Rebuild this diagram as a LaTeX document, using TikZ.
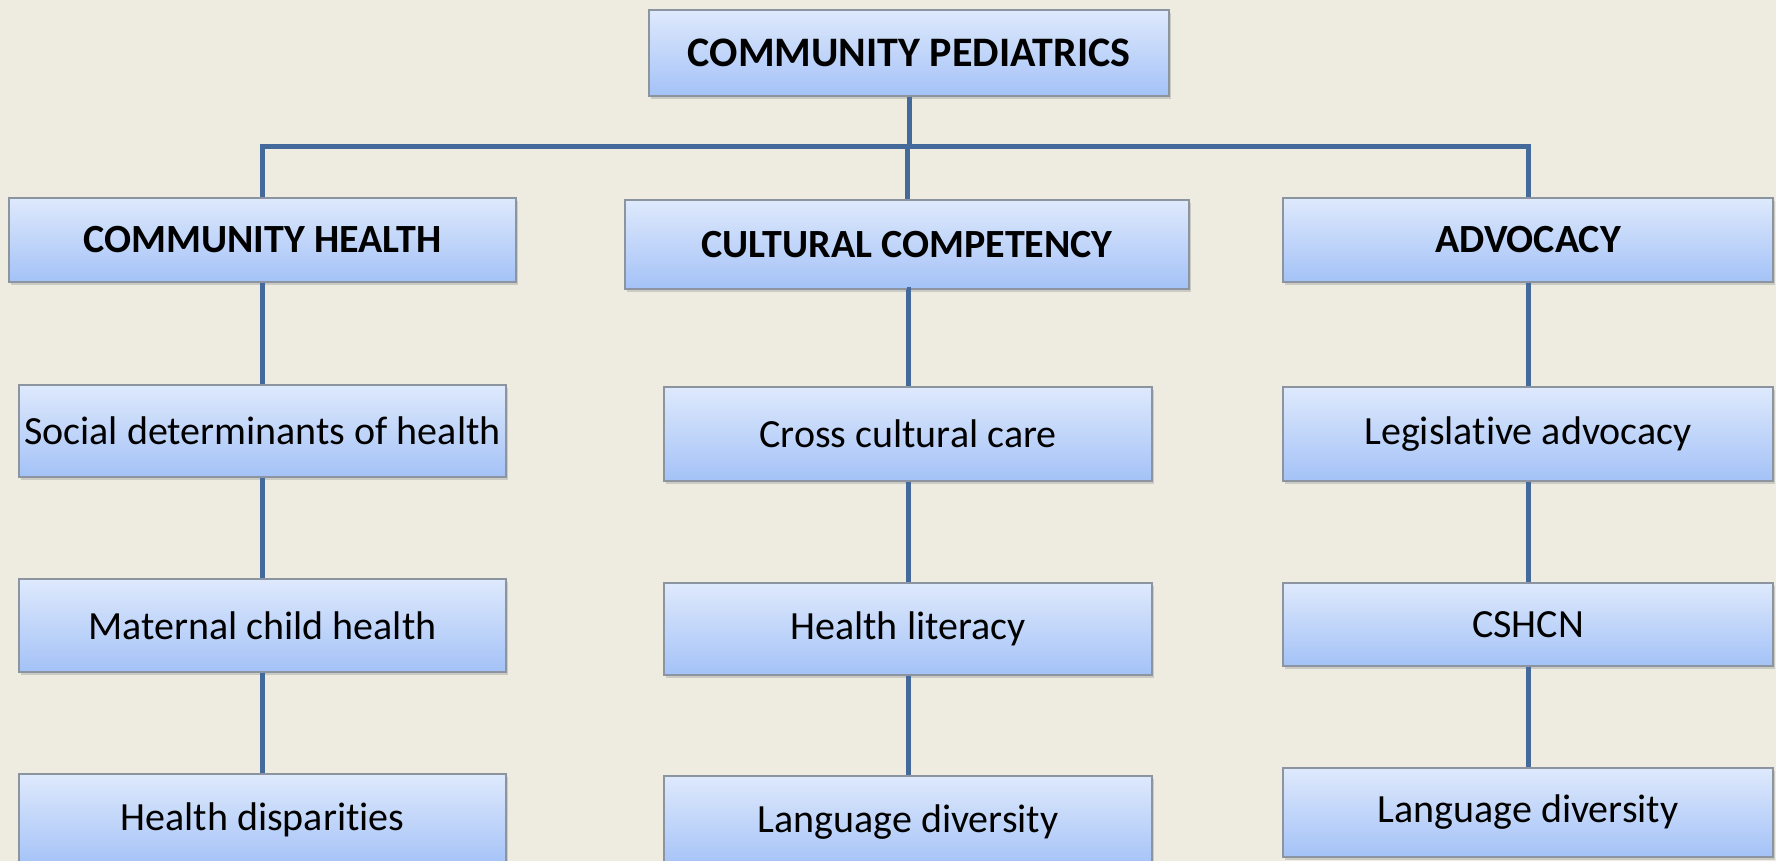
\documentclass[tikz,border=0pt]{standalone}
\usepackage{fontspec}
\setmainfont{Carlito}[Ligatures=CommonOff]
\usetikzlibrary{shadows}
\definecolor{bg}{RGB}{238,236,225}
\definecolor{boxtop}{RGB}{222,233,252}
\definecolor{boxbot}{RGB}{164,194,247}
\definecolor{boxline}{RGB}{140,148,160}
\definecolor{conncol}{RGB}{68,105,155}
\begin{document}
\begin{tikzpicture}[x=0.5pt,y=-0.5pt,
  box/.style={draw=boxline, line width=0.6pt, top color=boxtop, bottom color=boxbot,
    inner sep=0pt, align=center, font=\fontsize{20}{24}\selectfont,
    drop shadow={shadow xshift=1.2pt, shadow yshift=-1.6pt, opacity=0.3}},
  head/.style={box, font=\bfseries\fontsize{20}{24}\selectfont},
  conn/.style={draw=conncol, line width=2.5pt}]
\fill[bg] (0,0) rectangle (1776,861);
\useasboundingbox (0,0) rectangle (1776,861);
% top
\node[head, font=\bfseries\fontsize{21}{25}\selectfont, minimum width=260pt, minimum height=43pt] (top) at (909,53) {COMMUNITY PEDIATRICS};
% level 1
\node[head, minimum width=253.5pt, minimum height=42pt] (ch) at (262.5,240) {COMMUNITY HEALTH};
\node[head, minimum width=282pt, minimum height=44.5pt] (cc) at (907,244.5) {CULTURAL COMPETENCY};
\node[head, minimum width=245pt, minimum height=42pt] (adv) at (1528,240) {ADVOCACY};
% level 2
\node[box, minimum width=243.5pt, minimum height=46pt] (sd) at (262.5,431) {Social determinants of health};
\node[box, minimum width=244pt, minimum height=47pt] (ccc) at (908,434) {Cross cultural care};
\node[box, minimum width=245pt, minimum height=47pt] (la) at (1528,434) {Legislative advocacy};
% level 3
\node[box, minimum width=243.5pt, minimum height=46.5pt] (mch) at (262.5,625.5) {Maternal child health};
\node[box, minimum width=244pt, minimum height=46pt] (hl) at (908,629) {Health literacy};
\node[box, minimum width=245pt, minimum height=41.5pt] (cshcn) at (1528,624.5) {CSHCN};
% level 4
\node[box, minimum width=243.5pt, minimum height=46pt] (hd) at (262.5,820) {Health disparities};
\node[box, minimum width=244pt, minimum height=46pt] (ld1) at (908,822) {Language diversity};
\node[box, minimum width=245pt, minimum height=44.5pt] (ld2) at (1528,812.5) {Language diversity};
% connectors
\coordinate (bus) at (909,147);
\draw[conn] (top.south) -- (bus);
\draw[conn] (ch.north) |- (bus) -| (adv.north);
\draw[conn] (cc.north) -- (cc.north |- bus);
\draw[conn] (ch.south) -- (sd.north);
\draw[conn] (sd.south) -- (mch.north);
\draw[conn] (mch.south) -- (hd.north);
\draw[conn] (cc.south) -- (cc.south -| ccc.north) -- (ccc.north);
\draw[conn] (ccc.south) -- (hl.north);
\draw[conn] (hl.south) -- (ld1.north);
\draw[conn] (adv.south) -- (la.north);
\draw[conn] (la.south) -- (cshcn.north);
\draw[conn] (cshcn.south) -- (ld2.north);
\end{tikzpicture}
\end{document}
